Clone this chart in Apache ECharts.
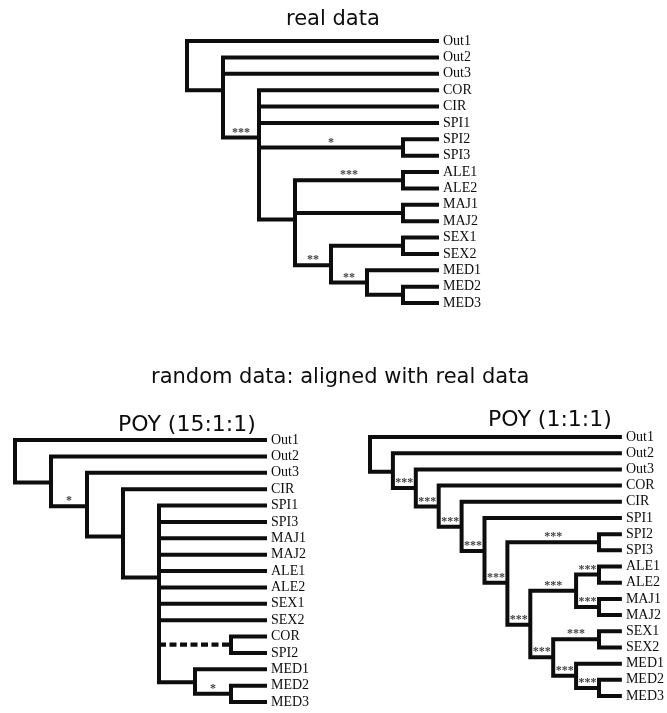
<!DOCTYPE html>
<html><head><meta charset="utf-8">
<script src="https://cdn.jsdelivr.net/npm/echarts@6/dist/echarts.min.js"></script>
<style>html,body{margin:0;padding:0;background:#fff}#c{width:667px;height:713px}</style>
</head><body><div id="c"></div>
<script>
// ===== Tree 1: real data =====
const realLeaves      = ['Out1','Out2','Out3','COR','CIR','SPI1','SPI2','SPI3','ALE1','ALE2','MAJ1','MAJ2','SEX1','SEX2','MED1','MED2','MED3'];
const realLeafParent  = ['root','A','A','B','B','B','S23','S23','ALE','ALE','MAJ','MAJ','SEX','SEX','E','F','F'];
const realNodes       = ['root','A','B','S23','C','ALE','MAJ','D','SEX','E','F'];
const realNodeParent  = [null,'root','A','B','B','C','C','C','D','D','E'];
const realNodeDepth   = [0,1,2,6,3,6,6,4,6,5,6];
const realNodeRow     = [0,3.0,5.9,6.5,10.9,8.5,10.5,13.7,12.5,14.75,15.5];
const realSupport     = ['','','***','*','','***','','**','','**',''];
const realDashed      = [false,false,false,false,false,false,false,false,false,false,false];
const realTipDepth    = 7;

// ===== Tree 2: random data, POY (15:1:1) =====
const poy15Leaves     = ['Out1','Out2','Out3','CIR','SPI1','SPI3','MAJ1','MAJ2','ALE1','ALE2','SEX1','SEX2','COR','SPI2','MED1','MED2','MED3'];
const poy15LeafParent = ['root','A','B','C','D','D','D','D','D','D','D','D','CS','CS','MED','M23','M23'];
const poy15Nodes      = ['root','A','B','C','D','CS','MED','M23'];
const poy15NodeParent = [null,'root','A','B','C','D','D','MED'];
const poy15NodeDepth  = [0,1,2,3,4,6,5,6];
const poy15NodeRow    = [0,2.6,4.05,5.9,8.4,12.5,14.8,15.5];
const poy15Support    = ['','','*','','','','','*'];
const poy15Dashed     = [false,false,false,false,false,true,false,false];
const poy15TipDepth   = 7;

// ===== Tree 3: random data, POY (1:1:1) =====
const poy1Leaves      = ['Out1','Out2','Out3','COR','CIR','SPI1','SPI2','SPI3','ALE1','ALE2','MAJ1','MAJ2','SEX1','SEX2','MED1','MED2','MED3'];
const poy1LeafParent  = ['root','A','B','C','D','E','S23','S23','ALE','ALE','MAJ','MAJ','SEX','SEX','I','M23','M23'];
const poy1Nodes       = ['root','A','B','C','D','E','F','S23','G','AM','ALE','MAJ','H','SEX','I','M23'];
const poy1NodeParent  = [null,'root','A','B','C','D','E','F','F','G','AM','AM','G','H','H','I'];
const poy1NodeDepth   = [0,1,2,3,4,5,6,10,7,9,10,10,8,10,9,10];
const poy1NodeRow     = [0,2.15,3.15,4.3,5.55,7.05,9.0,6.5,11.6,9.5,8.5,10.5,13.6,12.5,14.75,15.5];
const poy1Support     = ['','','***','***','***','***','***','***','***','***','***','***','***','***','***','***'];
const poy1Dashed      = [false,false,false,false,false,false,false,false,false,false,false,false,false,false,false,false];
const poy1TipDepth    = 11;

// ===== Titles =====
const mainTitle  = 'real data';
const lowerTitle = 'random data: aligned with real data';
const poy15Title = 'POY (15:1:1)';
const poy1Title  = 'POY (1:1:1)';

function buildTree(leaves, leafParent, nodes, nodeParent, nodeDepth, nodeRow, support, dashed, tip) {
  const pos = {};
  nodes.forEach((n, i) => pos[n] = [nodeDepth[i], nodeRow[i]]);
  const children = {};
  leaves.forEach((l, i) => (children[leafParent[i]] = children[leafParent[i]] || []).push({x: tip, y: i, dashed: false}));
  nodes.forEach((n, i) => {
    if (nodeParent[i]) (children[nodeParent[i]] = children[nodeParent[i]] || []).push({x: nodeDepth[i], y: nodeRow[i], dashed: dashed[i]});
  });
  const segs = [];
  nodes.forEach(n => {
    const nx = pos[n][0];
    const ch = children[n].slice().sort((a, b) => a.y - b.y);
    const first = ch[0], last = ch[ch.length - 1];
    segs.push({coords: [[first.x, first.y], [nx, first.y], [nx, last.y], [last.x, last.y]]});
    ch.slice(1, -1).forEach(c => {
      const s = {coords: [[nx, c.y], [c.x, c.y]]};
      if (c.dashed) s.lineStyle = {type: [7, 3.5], width: 4.2};
      segs.push(s);
    });
  });
  const stars = [];
  nodes.forEach((n, i) => {
    if (support[i]) {
      const px = pos[nodeParent[i]][0];
      stars.push({name: support[i], value: [(px + nodeDepth[i]) / 2, nodeRow[i]]});
    }
  });
  return {segs, stars};
}

const trees = [
  buildTree(realLeaves, realLeafParent, realNodes, realNodeParent, realNodeDepth, realNodeRow, realSupport, realDashed, realTipDepth),
  buildTree(poy15Leaves, poy15LeafParent, poy15Nodes, poy15NodeParent, poy15NodeDepth, poy15NodeRow, poy15Support, poy15Dashed, poy15TipDepth),
  buildTree(poy1Leaves, poy1LeafParent, poy1Nodes, poy1NodeParent, poy1NodeDepth, poy1NodeRow, poy1Support, poy1Dashed, poy1TipDepth)
];
const leafSets = [realLeaves, poy15Leaves, poy1Leaves];
const tips = [realTipDepth, poy15TipDepth, poy1TipDepth];

const grids = [
  {left: 187, top: 41, width: 252, height: 262},
  {left: 15, top: 440, width: 252, height: 262},
  {left: 370, top: 437, width: 253, height: 259}
];

const INK = '#0d0d0d';
const labelFont = 'Liberation Serif';
const titleFont = 'DejaVu Sans';

const mctx = document.createElement('canvas').getContext('2d');
function leftFor(text, size, cx) {
  mctx.font = size + 'px "' + titleFont + '"';
  return Math.round(cx - mctx.measureText(text).width / 2);
}
function mkTitle(text, size, cx, top) {
  return {text, left: leftFor(text, size, cx), top, padding: 0,
    textStyle: {fontFamily: titleFont, fontSize: size, fontWeight: 'normal', color: INK}};
}

const xAxis = grids.map((g, i) => ({type: 'value', gridIndex: i, min: 0, max: tips[i], show: false}));
const yAxis = grids.map((g, i) => ({
  type: 'value', gridIndex: i, min: 0, max: 16, interval: 1, inverse: true, position: 'right',
  axisLine: {show: false}, axisTick: {show: false}, splitLine: {show: false},
  axisLabel: {show: true, margin: 4, showMinLabel: true, showMaxLabel: true,
    fontFamily: labelFont, fontSize: 14, color: INK,
    formatter: v => leafSets[i][Math.round(v)] || ''}
}));

const series = [];
trees.forEach((t, i) => {
  series.push({
    type: 'lines', coordinateSystem: 'cartesian2d', xAxisIndex: i, yAxisIndex: i,
    polyline: true, silent: true, clip: false, z: 2,
    lineStyle: {color: INK, width: 4, opacity: 1, cap: 'butt', join: 'miter'},
    data: t.segs
  });
  series.push({
    type: 'scatter', xAxisIndex: i, yAxisIndex: i, symbolSize: 0, silent: true, z: 3, clip: false,
    label: {show: true, position: 'inside', offset: [0, -5], formatter: p => p.name,
      fontFamily: labelFont, fontSize: 12, fontWeight: 'bold', color: INK},
    data: t.stars
  });
});

const chart = echarts.init(document.getElementById('c'), null, {renderer: 'canvas'});
chart.setOption({
  animation: false,
  backgroundColor: '#fff',
  title: [
    mkTitle(mainTitle, 21, 333, 9),
    mkTitle(lowerTitle, 21, 340, 367),
    mkTitle(poy15Title, 22, 187, 414),
    mkTitle(poy1Title, 22, 550, 409)
  ],
  grid: grids.map(g => Object.assign({containLabel: false}, g)),
  xAxis, yAxis, series
});
</script></body></html>
